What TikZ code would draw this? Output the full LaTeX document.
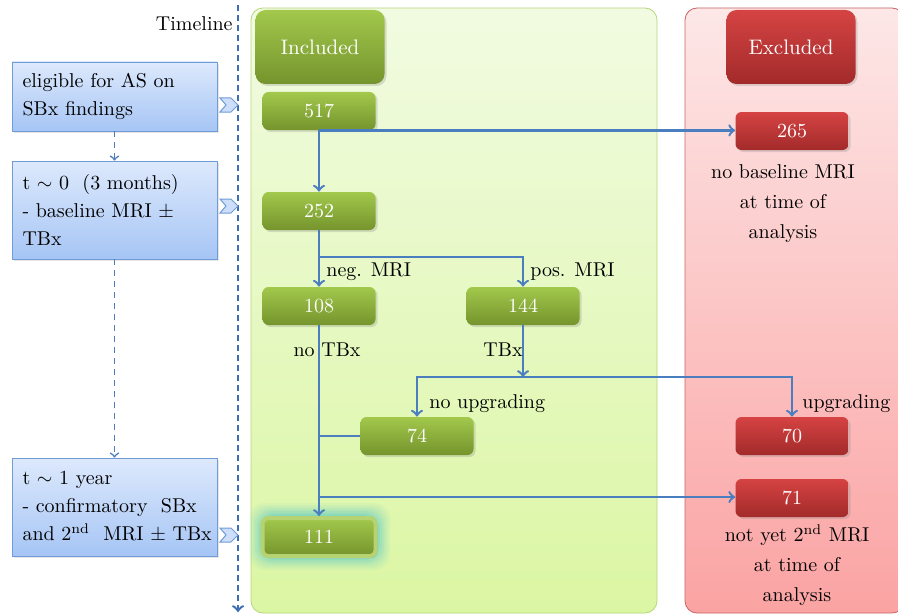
\documentclass[tikz,border=0pt]{standalone}
\usepackage{xcolor}
\usepackage{amsmath,amssymb}
\usepackage{tikz}
\usetikzlibrary{arrows,positioning,calc,shapes,shadows}

\definecolor{linkblue}{HTML}{4A7EBF}
\definecolor{lineblue}{HTML}{3C6EB4}
\definecolor{boxtop}{HTML}{DDE9FC}
\definecolor{boxbot}{HTML}{A6C5F5}
\definecolor{boxedge}{HTML}{6F9BD6}
\definecolor{gtop}{HTML}{A2C84C}
\definecolor{gbot}{HTML}{75942D}
\definecolor{rtop}{HTML}{D54343}
\definecolor{rbot}{HTML}{A32A2A}
\definecolor{gpaneltop}{HTML}{F1FBE1}
\definecolor{gpanelbot}{HTML}{DBF6A3}
\definecolor{gpaneledge}{HTML}{B5D67A}
\definecolor{rpaneltop}{HTML}{FDE7E7}
\definecolor{rpanelbot}{HTML}{FBA3A3}
\definecolor{rpaneledge}{HTML}{C86464}
\definecolor{glowcyan}{HTML}{4FC3CC}

\begin{document}
\begin{tikzpicture}[x=0.5pt,y=-0.5pt,
  every node/.style={font=\fontsize{10}{14}\selectfont},
  incl/.style={rounded corners=3pt, minimum width=56.5pt, minimum height=19pt,
    top color=gtop, bottom color=gbot, text=white,
    drop shadow={opacity=0.25,shadow xshift=1pt,shadow yshift=-1pt}},
  excl/.style={incl, top color=rtop, bottom color=rbot},
  header/.style={incl, rounded corners=5pt, minimum width=64.5pt, minimum height=37pt,
    font=\fontsize{10.5}{14}\selectfont},
  stage/.style={draw=boxedge, top color=boxtop, bottom color=boxbot,
    minimum width=102.5pt, text width=92pt, inner xsep=5pt, align=left,
    drop shadow={opacity=0.2,shadow xshift=1pt,shadow yshift=-1pt}},
  link/.style={draw=linkblue, line width=1.2pt},
  lbl/.style={font=\fontsize{10}{15}\selectfont, inner sep=1pt},
  chev/.style={draw=boxedge, fill=boxtop!70!boxbot, line width=0.5pt}]
\useasboundingbox (0,0) rectangle (898,615);

% Panels
\draw[rounded corners=6pt, draw=gpaneledge, top color=gpaneltop, bottom color=gpanelbot]
  (251,8) rectangle (657,613);
\draw[rounded corners=6pt, draw=rpaneledge, top color=rpaneltop, bottom color=rpanelbot]
  (685,8) rectangle (904,613);

% Timeline
\draw[lineblue, line width=1.2pt, dash pattern=on 3pt off 2pt, ->] (238,5) -- (238,612);
\node[anchor=east, inner sep=1pt] (tl) at (235,24) {Timeline};

% Stages on the timeline
\node[stage, minimum height=34.5pt] (s1) at (114.5,96.5) {eligible for AS on\\SBx findings};
\node[stage, minimum height=49pt] (s2) at (114.5,210) {t $\sim$ 0\ \ (3 months)\\- baseline MRI $\pm$\\TBx};
\node[stage, minimum height=49pt] (s3) at (114.5,507) {t $\sim$ 1 year\\- confirmatory~~SBx\\and~2\textsuperscript{nd}~~MRI~$\pm$~TBx};
\draw[linkblue, line width=0.8pt, dash pattern=on 3pt off 2.5pt, ->] (s1.south) -- (s2.north);
\draw[linkblue, line width=0.8pt, dash pattern=on 3pt off 2.5pt, ->] (s2.south) -- (s3.north);

% Chevrons
\foreach \y in {105,206,535}
  \draw[chev] (220,\y-7) -- (231,\y-7) -- (238,\y) -- (231,\y+7) -- (220,\y+7) -- (226,\y) -- cycle;

% Headers
\node[header] (inc) at (320,47) {Included};
\node[header, top color=rtop, bottom color=rbot] (exc) at (791,47) {Excluded};

% Glow behind 111
\foreach \g/\o in {14/0.06, 12/0.07, 10/0.09, 8/0.11, 6/0.14, 4/0.18, 2/0.2}
  \fill[glowcyan, opacity=\o, rounded corners=8pt] (263-\g,517-\g) rectangle (376+\g,556+\g);

% Counts
\node[incl] (n517) at (319,111) {517};
\node[incl] (n252) at (319,211) {252};
\node[incl] (n108) at (319,306) {108};
\node[incl] (n144) at (523,306) {144};
\node[incl] (n74) at (417,436) {74};
\node[incl, draw=gtop!80!white, line width=2pt] (n111) at (319,537) {111};
\node[excl] (n265) at (792,131) {265};
\node[excl] (n70) at (792,436) {70};
\node[excl] (n71) at (792,498) {71};

% Connectors
\draw[link,->] (n517.south) -- (n252.north);
\draw[link,->] (n517.south) -- (n517.south -| n265.west);
\coordinate (mrisplit) at ($(n252.south)!0.47!(n108.north)$);
\draw[link,->] (n252.south) -- (n108.north);
\draw[link,->] (mrisplit) -| (n144.north);
\draw[link,->] (n108.south) -- (n111.north);
\coordinate (tbxsplit) at (n144.south |- 0,377);
\draw[link,->] (n144.south) -- (tbxsplit);
\draw[link,->] (tbxsplit) -| (n74.north);
\draw[link,->] (tbxsplit) -| (n70.north);
\draw[link] (n74.west) -- (n74.west -| n108.south);
\draw[link,->] (n108.south |- 0,497) -- (n108.south |- 0,497 -| n71.west);

% Labels
\node[lbl, anchor=west] (negmri) at (324,272) {neg. MRI};
\node[lbl, anchor=west] (posmri) at (528,272) {pos. MRI};
\node[lbl] (notbx) at (327,350) {no\ TBx};
\node[lbl] (tbx) at (503,350) {TBx};
\node[lbl, anchor=west] (noup) at (427,404) {no upgrading};
\node[lbl, anchor=west] (up) at (800,404) {upgrading};
\node[lbl, align=center] (why265) at (783,204) {no baseline MRI\\at time of\\analysis};
\node[lbl, align=center] (why71) at (797,565) {not yet 2\textsuperscript{nd} MRI\\at time of\\analysis};
\end{tikzpicture}
\end{document}
